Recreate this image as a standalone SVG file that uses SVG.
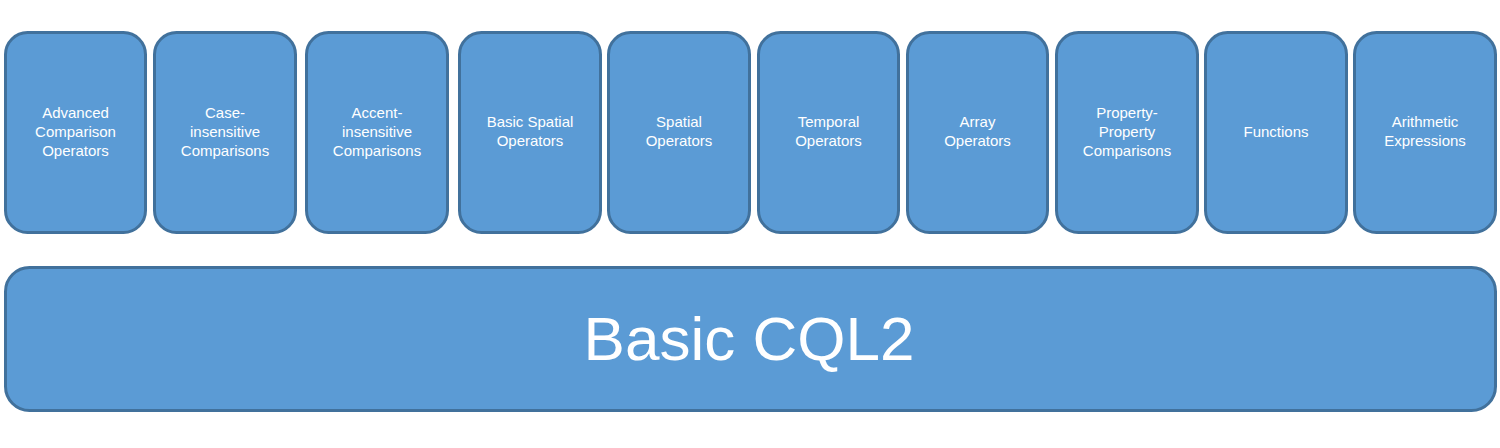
<svg xmlns="http://www.w3.org/2000/svg" width="1500" height="448" viewBox="0 0 1500 448">
<style>
.box{fill:#5B9BD5;stroke:#41719C;stroke-width:3}
.t{font-family:"Liberation Sans",Arial,sans-serif;font-size:15px;fill:#fff;text-anchor:middle}
.big{font-family:"Liberation Sans",Arial,sans-serif;font-size:62px;fill:#fff;text-anchor:middle}
</style>
<rect width="1500" height="448" fill="#fff"/>
<g id="n1"><rect class="box" x="5.5" y="32.5" width="140" height="200" rx="22"/>
<text class="t"><tspan x="75.5" y="118">Advanced</tspan><tspan x="75.5" y="137">Comparison</tspan><tspan x="75.5" y="156">Operators</tspan></text></g>
<g id="n2"><rect class="box" x="154.5" y="32.5" width="141" height="200" rx="22"/>
<text class="t"><tspan x="225" y="118">Case-</tspan><tspan x="225" y="137">insensitive</tspan><tspan x="225" y="156">Comparisons</tspan></text></g>
<g id="n3"><rect class="box" x="306.5" y="32.5" width="141" height="200" rx="22"/>
<text class="t"><tspan x="377" y="118">Accent-</tspan><tspan x="377" y="137">insensitive</tspan><tspan x="377" y="156">Comparisons</tspan></text></g>
<g id="n4"><rect class="box" x="459.5" y="32.5" width="141" height="200" rx="22"/>
<text class="t"><tspan x="530" y="127">Basic Spatial</tspan><tspan x="530" y="146">Operators</tspan></text></g>
<g id="n5"><rect class="box" x="608.5" y="32.5" width="141" height="200" rx="22"/>
<text class="t"><tspan x="679" y="127">Spatial</tspan><tspan x="679" y="146">Operators</tspan></text></g>
<g id="n6"><rect class="box" x="758.5" y="32.5" width="140" height="200" rx="22"/>
<text class="t"><tspan x="828.5" y="127">Temporal</tspan><tspan x="828.5" y="146">Operators</tspan></text></g>
<g id="n7"><rect class="box" x="907.5" y="32.5" width="140" height="200" rx="22"/>
<text class="t"><tspan x="977.5" y="127">Array</tspan><tspan x="977.5" y="146">Operators</tspan></text></g>
<g id="n8"><rect class="box" x="1056.5" y="32.5" width="141" height="200" rx="22"/>
<text class="t"><tspan x="1127" y="118">Property-</tspan><tspan x="1127" y="137">Property</tspan><tspan x="1127" y="156">Comparisons</tspan></text></g>
<g id="n9"><rect class="box" x="1205.5" y="32.5" width="141" height="200" rx="22"/>
<text class="t"><tspan x="1276" y="137">Functions</tspan></text></g>
<g id="n10"><rect class="box" x="1354.5" y="32.5" width="141" height="200" rx="22"/>
<text class="t"><tspan x="1425" y="127">Arithmetic</tspan><tspan x="1425" y="146">Expressions</tspan></text></g>
<g id="base"><rect class="box" x="5.5" y="267.5" width="1490" height="143" rx="24"/>
<text class="big" x="749" y="360">Basic CQL2</text></g>
<g id="connectors"></g>
</svg>
